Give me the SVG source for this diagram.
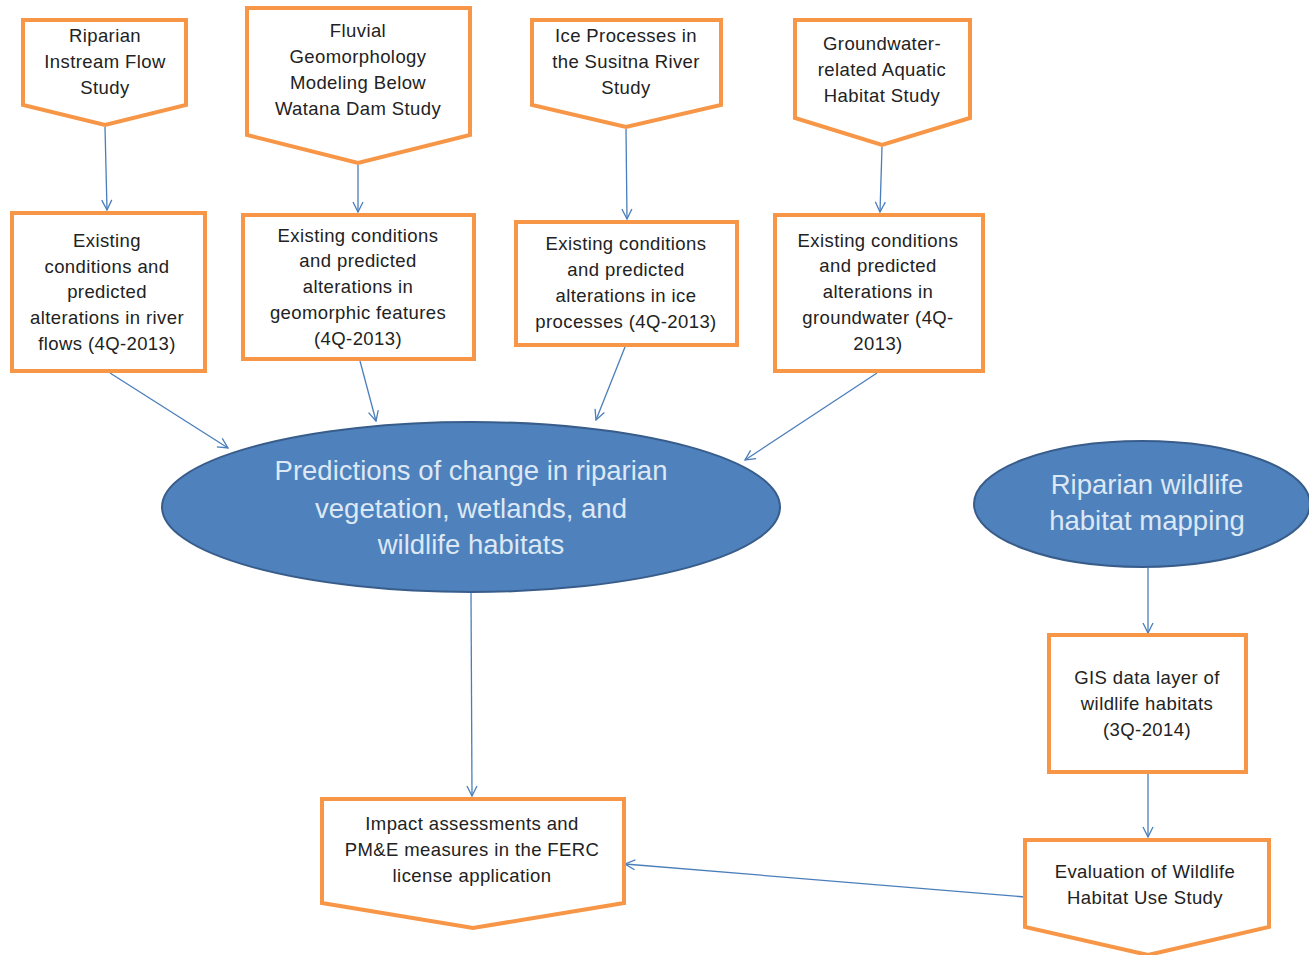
<svg xmlns="http://www.w3.org/2000/svg" width="1309" height="955" viewBox="0 0 1309 955">
<defs>
<marker id="ah" viewBox="0 0 12 12" refX="11" refY="6" markerWidth="12" markerHeight="12" markerUnits="userSpaceOnUse" orient="auto">
<path d="M1,1 L11,6 L1,11" fill="none" stroke="#4a7ebb" stroke-width="1.3"/>
</marker>
<style>
.box{fill:#ffffff;stroke:#f79646;stroke-width:4;stroke-linejoin:miter}
.ell{fill:#4f81bd;stroke:#385d8a;stroke-width:2}
.t{font-family:"Liberation Sans",Arial,sans-serif;font-size:18.5px;letter-spacing:0.4px;fill:#222222;text-anchor:middle}
.te{font-family:"Liberation Sans",Arial,sans-serif;font-size:27.5px;fill:#dce8f4;text-anchor:middle}
.c{fill:none;stroke:#4a7ebb;stroke-width:1.3;marker-end:url(#ah)}
</style>
</defs>
<rect width="1309" height="955" fill="#ffffff"/>

<g id="connectors">
<line class="c" x1="105" y1="127" x2="107" y2="210"/>
<line class="c" x1="358" y1="165" x2="358" y2="212"/>
<line class="c" x1="626" y1="129" x2="627" y2="219"/>
<line class="c" x1="882" y1="147" x2="880" y2="212"/>
<line class="c" x1="110" y1="373" x2="228" y2="448"/>
<line class="c" x1="360" y1="361" x2="376" y2="421"/>
<line class="c" x1="625" y1="347" x2="596" y2="420"/>
<line class="c" x1="877" y1="373" x2="745" y2="460"/>
<line class="c" x1="471" y1="593" x2="472" y2="796"/>
<line class="c" x1="1148" y1="568" x2="1148" y2="633"/>
<line class="c" x1="1148" y1="774" x2="1148" y2="837"/>
<line class="c" x1="1025" y1="897" x2="625" y2="864"/>
</g>

<g id="study-riparian-instream">
<polygon class="box" points="23,20 186,20 186,105 105,125 23,105"/>
<text class="t" x="105" y="42">Riparian</text>
<text class="t" x="105" y="68">Instream Flow</text>
<text class="t" x="105" y="94">Study</text>
</g>

<g id="study-fluvial">
<polygon class="box" points="247,8 470,8 470,135 358,163 247,135"/>
<text class="t" x="358" y="37">Fluvial</text>
<text class="t" x="358" y="63">Geomorphology</text>
<text class="t" x="358" y="89">Modeling Below</text>
<text class="t" x="358" y="115">Watana Dam Study</text>
</g>

<g id="study-ice">
<polygon class="box" points="532,20 721,20 721,105 626,127 532,105"/>
<text class="t" x="626" y="42">Ice Processes in</text>
<text class="t" x="626" y="68">the Susitna River</text>
<text class="t" x="626" y="94">Study</text>
</g>

<g id="study-groundwater">
<polygon class="box" points="795,20 970,20 970,118 882,145 795,118"/>
<text class="t" x="882" y="50">Groundwater-</text>
<text class="t" x="882" y="76">related Aquatic</text>
<text class="t" x="882" y="102">Habitat Study</text>
</g>

<g id="box-river-flows">
<rect class="box" x="12" y="213" width="193" height="158"/>
<text class="t" x="107" y="247">Existing</text>
<text class="t" x="107" y="273">conditions and</text>
<text class="t" x="107" y="298">predicted</text>
<text class="t" x="107" y="324">alterations in river</text>
<text class="t" x="107" y="350">flows (4Q-2013)</text>
</g>

<g id="box-geomorphic">
<rect class="box" x="243" y="215" width="231" height="144"/>
<text class="t" x="358" y="242">Existing conditions</text>
<text class="t" x="358" y="267">and predicted</text>
<text class="t" x="358" y="293">alterations in</text>
<text class="t" x="358" y="319">geomorphic features</text>
<text class="t" x="358" y="345">(4Q-2013)</text>
</g>

<g id="box-ice">
<rect class="box" x="516" y="222" width="221" height="123"/>
<text class="t" x="626" y="250">Existing conditions</text>
<text class="t" x="626" y="276">and predicted</text>
<text class="t" x="626" y="302">alterations in ice</text>
<text class="t" x="626" y="328">processes (4Q-2013)</text>
</g>

<g id="box-groundwater">
<rect class="box" x="775" y="215" width="208" height="156"/>
<text class="t" x="878" y="247">Existing conditions</text>
<text class="t" x="878" y="272">and predicted</text>
<text class="t" x="878" y="298">alterations in</text>
<text class="t" x="878" y="324">groundwater  (4Q-</text>
<text class="t" x="878" y="350">2013)</text>
</g>

<g id="ellipse-predictions">
<ellipse class="ell" cx="471" cy="507" rx="309" ry="85"/>
<text class="te" x="471" y="480">Predictions of change in riparian</text>
<text class="te" x="471" y="518">vegetation, wetlands, and</text>
<text class="te" x="471" y="554">wildlife habitats</text>
</g>

<g id="ellipse-mapping">
<ellipse class="ell" cx="1142" cy="504" rx="168" ry="63"/>
<text class="te" x="1147" y="494">Riparian wildlife</text>
<text class="te" x="1147" y="530">habitat mapping</text>
</g>

<g id="box-gis">
<rect class="box" x="1049" y="635" width="197" height="137"/>
<text class="t" x="1147" y="684">GIS data layer of</text>
<text class="t" x="1147" y="710">wildlife habitats</text>
<text class="t" x="1147" y="736">(3Q-2014)</text>
</g>

<g id="study-evaluation">
<polygon class="box" points="1025,840 1269,840 1269,927 1148,955 1025,927"/>
<text class="t" x="1145" y="878">Evaluation of Wildlife</text>
<text class="t" x="1145" y="904">Habitat Use Study</text>
</g>

<g id="impact">
<polygon class="box" points="322,799 624,799 624,903 473,928 322,903"/>
<text class="t" x="472" y="830">Impact assessments and</text>
<text class="t" x="472" y="856">PM&amp;E measures in the FERC</text>
<text class="t" x="472" y="882">license application</text>
</g>
</svg>
